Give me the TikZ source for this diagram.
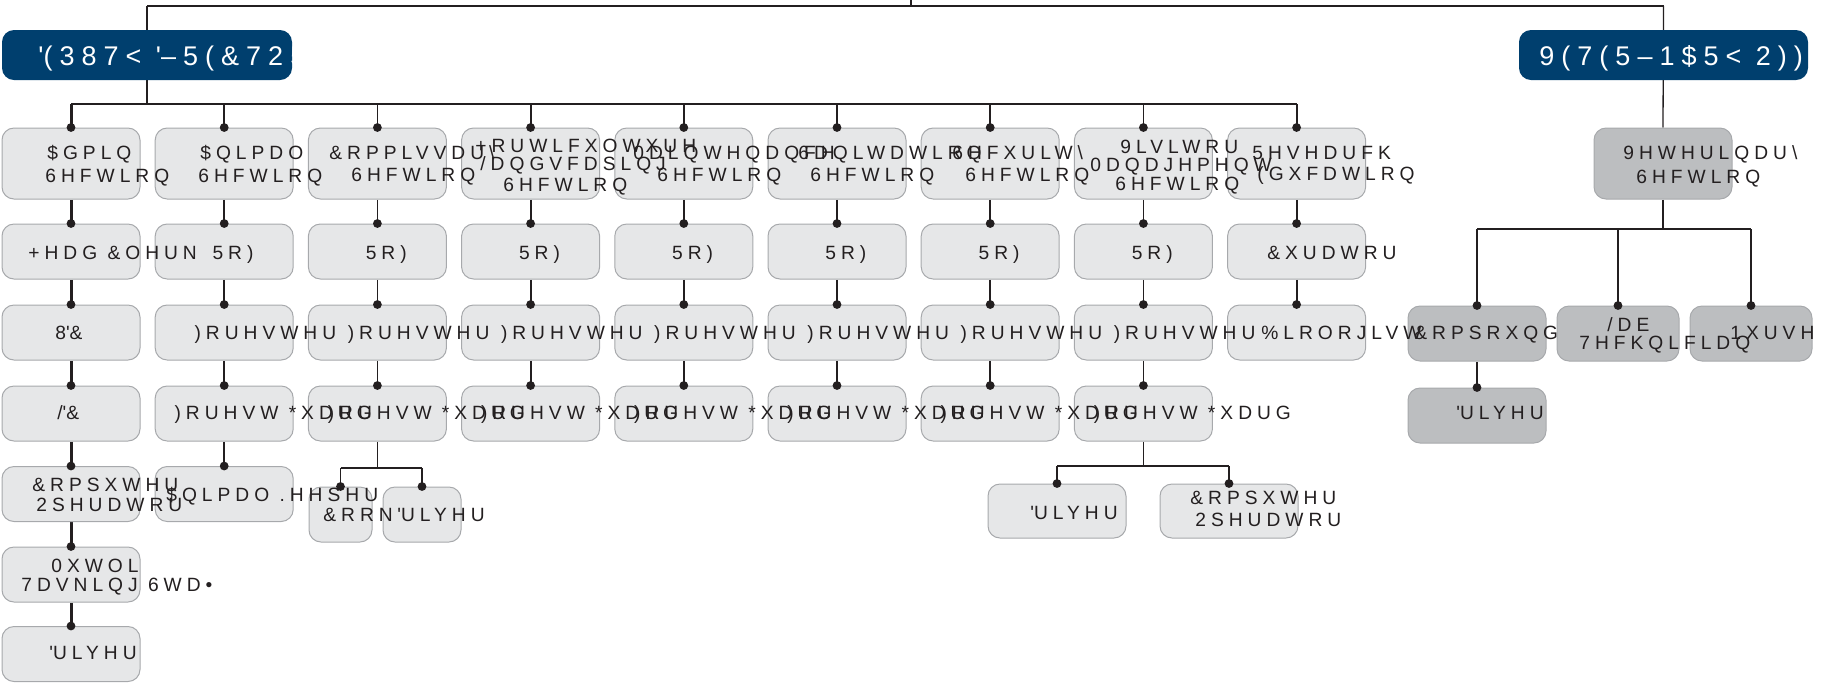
\documentclass[tikz,border=0pt]{standalone}
\usepackage{fontspec}
\newfontfamily\bxfont[LetterSpace=26]{Liberation Sans}
\newfontfamily\ttlfont[LetterSpace=26]{Liberation Sans}
\usetikzlibrary{backgrounds}
\definecolor{ink}{HTML}{231F20}
\definecolor{boxfill}{HTML}{E6E7E8}
\definecolor{boxdark}{HTML}{BCBEC0}
\definecolor{boxedge}{HTML}{A7A9AC}
\definecolor{navy}{HTML}{003F6E}
\newcommand\q{\textquotesingle}
\newcommand\tx[4]{\node[lbl] (#1) at (#2,#3) {#4};}
\begin{document}
\begin{tikzpicture}[x=0.5pt,y=-0.5pt,
  box/.style={rectangle, rounded corners=6pt, draw=boxedge, line width=0.5pt, fill=boxfill, inner sep=0pt, minimum width=69pt, minimum height=27.5pt},
  tallbox/.style={box, minimum height=35.5pt},
  darkbox/.style={box, fill=boxdark},
  ttl/.style={rectangle, rounded corners=6pt, fill=navy, inner sep=0pt, minimum width=145pt, minimum height=25pt},
  lbl/.style={anchor=base west, inner sep=0pt, font=\bxfont\fontsize{9.6pt}{10pt}\selectfont, text=ink},
  ttltxt/.style={anchor=base west, inner sep=0pt, font=\ttlfont\fontsize{13.5pt}{14pt}\selectfont, text=white},
  mainline/.style={draw=ink, line width=1.2pt},
  colonel/.style={draw=ink, line width=1.5pt},
  thinline/.style={draw=ink, line width=0.9pt},
  subline/.style={draw=ink, line width=0.75pt},
  rline/.style={draw=ink, line width=0.65pt},
  dot/.style={fill=ink}]
\useasboundingbox (0,0) rectangle (1832,682);
\coordinate (top) at (911,6);
\coordinate (stub) at (911,-4);
\coordinate (bar) at (0,104);
\coordinate (rj) at (0,229);
\coordinate (j3) at (0,468);
\coordinate (j8) at (0,466);
% title boxes
\node[ttl] (tl) at (147,55) {};
\node[ttl, minimum width=144.5pt] (tr) at (1663.5,55) {};
% column boxes
\foreach \k in {1,...,9}{
  \pgfmathsetmacro\cx{71+153.2*(\k-1)}
  \node[tallbox] (b\k1) at (\cx,163.5) {};
  \node[box] (b\k2) at (\cx,251.5) {};
  \node[box] (b\k3) at (\cx,332.5) {};
}
\foreach \k in {1,...,8}{
  \pgfmathsetmacro\cx{71+153.2*(\k-1)}
  \node[box] (b\k4) at (\cx,413.5) {};
}
\node[box] (b15) at (71,494) {};
\node[box] (b25) at (224.2,494) {};
\node[box] (b16) at (71,574.5) {};
\node[box] (b17) at (71,654) {};
% sub boxes
\node[box, minimum width=31.5pt] (cook) at (340.5,514.5) {};
\node[box, minimum width=39pt] (drva) at (422,514.5) {};
\node[box, minimum height=27pt] (drvb) at (1057,511) {};
\node[box, minimum height=27pt] (cop) at (1229,511) {};
% right branch boxes
\node[tallbox, fill=boxdark] (vet) at (1663,163.5) {};
\node[darkbox] (comp) at (1477,333.5) {};
\node[darkbox] (drvc) at (1477,415.5) {};
\node[darkbox, minimum width=61pt] (nurse) at (1751,333.5) {};
\tx{tcomp}{1414}{339.5}{\&RPSRXQGHU}
\node[darkbox, minimum width=61pt] (lab) at (1618,333.5) {};
% connectors
\begin{scope}[on background layer]
\draw[mainline] (stub) -- (top);
\draw[mainline] (tl.center |- top) -- (tr.center |- top);
\draw[mainline] (tl.center |- top) -- (tl.center |- bar);
\draw[mainline] (b11.north |- bar) -- (b91.north |- bar);
\draw[colonel] (b11.north |- bar) -- (b11.north);
\foreach \k in {2,...,9}{ \draw[thinline] (b\k1.north |- bar) -- (b\k1.north); }
\draw[colonel] (b11.south) -- (b12.north);
\draw[colonel] (b12.south) -- (b13.north);
\draw[colonel] (b13.south) -- (b14.north);
\draw[colonel] (b14.south) -- (b15.north);
\draw[colonel] (b15.south) -- (b16.north);
\draw[colonel] (b16.south) -- (b17.north);
\foreach \k in {2,...,9}{
  \draw[thinline] (b\k1.south) -- (b\k2.north);
  \draw[thinline] (b\k2.south) -- (b\k3.north);
}
\foreach \k in {2,...,8}{ \draw[thinline] (b\k3.south) -- (b\k4.north); }
\draw[thinline] (b24.south) -- (b25.north);
\draw[subline] (b34.south) -- (b34.south |- j3);
\draw[subline] (cook.north |- j3) -- (drva.north |- j3);
\draw[subline] (cook.north |- j3) -- (cook.north);
\draw[subline] (drva.north |- j3) -- (drva.north);
\draw[subline] (b84.south) -- (b84.south |- j8);
\draw[subline] (drvb.north |- j8) -- (cop.north |- j8);
\draw[subline] (drvb.north |- j8) -- (drvb.north);
\draw[subline] (cop.north |- j8) -- (cop.north);
\draw[rline] (tr.center |- top) -- (vet.north);
\draw[rline] (vet.south) -- (vet.south |- rj);
\draw[rline] (comp.north |- rj) -- (nurse.north |- rj);
\draw[rline] (comp.north |- rj) -- (comp.north);
\draw[rline] (lab.north |- rj) -- (lab.north);
\draw[rline] (nurse.north |- rj) -- (nurse.north);
\draw[rline] (comp.south) -- (drvc.north);
\end{scope}
% dots
\foreach \n in {b11,b12,b13,b14,b15,b16,b17,b21,b22,b23,b24,b25,b31,b32,b33,b34,b41,b42,b43,b44,b51,b52,b53,b54,b61,b62,b63,b64,b71,b72,b73,b74,b81,b82,b83,b84,b91,b92,b93,cook,drva,drvb,cop,comp,lab,nurse,drvc}{
  \fill[dot] (\n.north) circle[radius=2.2pt];
}
% titles
\node[ttltxt] (ttl1) at (38,65) {\q(387< \q–5(\&725};
\node[ttltxt] (ttl2) at (1539,65) {9(7(5–1\$5< 2))–\&(5};
% row 1
\tx{a1}{47}{159.6}{\$GPLQ}
\tx{a2}{45}{182.6}{6HFWLRQ}
\tx{c1}{200}{159.6}{\$QLPDO}
\tx{c2}{198}{182.6}{6HFWLRQ}
\tx{d1}{329}{159.6}{\&RPPLVVDU\textbackslash}
\tx{d2}{351}{181.6}{6HFWLRQ}
\tx{e1}{475}{152.6}{+RUWLFXOWXUH}
\tx{e2}{480}{170.6}{/DQGVFDSLQJ}
\tx{e3}{503}{191.6}{6HFWLRQ}
\tx{f1}{633}{159.6}{0DLQWHQDQFH}
\tx{f2}{657}{181.6}{6HFWLRQ}
\tx{g1}{798}{159.6}{6DQLWDWLRQ}
\tx{g2}{810}{181.6}{6HFWLRQ}
\tx{h1}{952}{159.6}{6HFXULW\textbackslash}
\tx{h2}{965}{181.6}{6HFWLRQ}
\tx{i1}{1120}{153.6}{9LVLWRU}
\tx{i2}{1090}{171.6}{0DQDJHPHQW}
\tx{i3}{1115}{190.6}{6HFWLRQ}
\tx{k1}{1252}{159.6}{5HVHDUFK}
\tx{k2}{1257}{180.6}{(GXFDWLRQ}
\tx{v1}{1623}{159.6}{9HWHULQDU\textbackslash}
\tx{v2}{1636}{183.6}{6HFWLRQ}
% rows 2-4
\tx{r21}{28}{259.5}{+HDG \&OHUN}
\tx{r31}{55}{339.5}{8\q\&}
\tx{r41}{57}{419.5}{/\q\&}
\foreach \k in {2,...,8}{
  \pgfmathsetmacro\lx{2+153.2*(\k-1)}
  \node[lbl] (r2\k) at (\lx+57,259.5) {5R)};
  \node[lbl] (r3\k) at (\lx+39,339.5) {)RUHVWHU};
  \node[lbl] (r4\k) at (\lx+19,419.5) {)RUHVW *XDUG};
}
\tx{r29}{1267}{259.5}{\&XUDWRU}
\tx{r39}{1261}{339.5}{\%LRORJLVW}
% lower rows
\tx{r51a}{32}{491.5}{\&RPSXWHU}
\tx{r51b}{36}{511.5}{2SHUDWRU}
\tx{r52}{166}{501.5}{\$QLPDO .HHSHU}
\tx{r61a}{51}{572.5}{0XWOL}
\tx{r61b}{21}{591.5}{7DVNLQJ 6WD•}
\tx{r71}{49}{659.5}{\q{}ULYHU}
\tx{tcook}{323}{521.5}{\&RRN}
\tx{tdrva}{397}{521.5}{\q{}ULYHU}
\tx{tdrvb}{1030}{519.5}{\q{}ULYHU}
\tx{tcopa}{1190}{504.5}{\&RPSXWHU}
\tx{tcopb}{1195}{526.5}{2SHUDWRU}
\tx{tlaba}{1607}{331.5}{/DE}
\tx{tlabb}{1579}{349.5}{7HFKQLFLDQ}
\tx{tnurse}{1730}{339.5}{1XUVH}
\tx{tdrvc}{1456}{419.5}{\q{}ULYHU}
\end{tikzpicture}
\end{document}
